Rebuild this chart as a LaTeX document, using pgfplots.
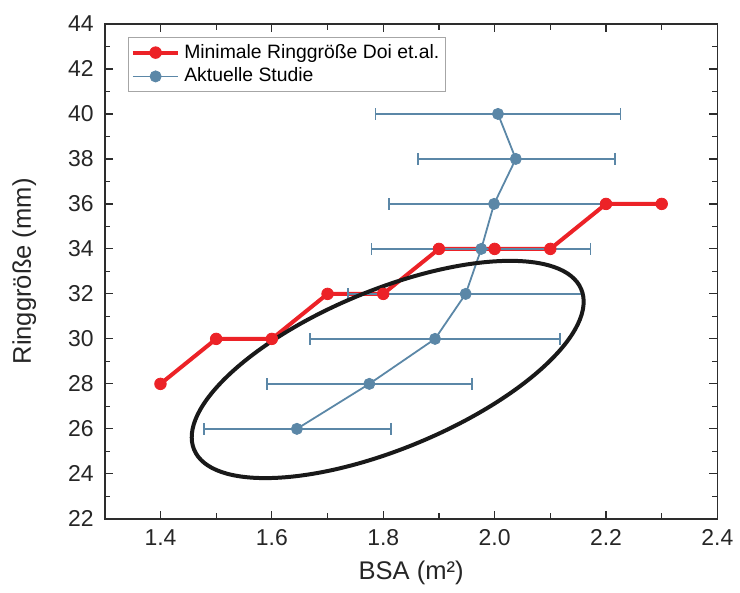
\documentclass[border=0pt]{standalone}
\usepackage{pgfplots}
\pgfplotsset{compat=1.18}
\usepackage{pgfplotstable}
\usepackage{fontspec}
\setmainfont{Liberation Sans}
\definecolor{myred}{RGB}{236,34,39}
\definecolor{myblue}{RGB}{91,135,167}
\definecolor{frame}{RGB}{45,45,45}
\pgfplotstableread{
x y ep em
1.645 26 0.169 0.167
1.775 28 0.184 0.184
1.893 30 0.224 0.224
1.948 32 0.210 0.211
1.976 34 0.196 0.197
1.999 36 0.199 0.189
2.038 38 0.178 0.176
2.006 40 0.220 0.220
}\studie
\pgfplotstableread{
x y
1.4 28
1.5 30
1.6 30
1.7 32
1.8 32
1.9 34
2.0 34
2.1 34
2.2 36
2.3 36
}\doi
\begin{document}
\begin{tikzpicture}
\begin{axis}[
 scale only axis, width=307pt, height=248pt,
 xmin=1.3, xmax=2.4, ymin=22, ymax=44,
 xtick={1.4,1.6,1.8,2.0,2.2,2.4}, minor x tick num=1,
 ytick={22,24,...,44}, minor y tick num=1,
 tick align=inside, major tick length=4pt, minor tick length=2.8pt,
 /pgf/number format/assume math mode=true,
 ticklabel style={font=\fontsize{11.5}{13}\selectfont, color=black!85},
 xticklabel style={/pgf/number format/fixed, /pgf/number format/fixed zerofill, /pgf/number format/precision=1, yshift=-2pt},
 yticklabel style={xshift=-2pt},
 axis line style={frame, line width=0.8pt},
 every tick/.style={frame, line width=0.6pt},
 xlabel={BSA (m²)}, ylabel={Ringgröße (mm)},
 label style={font=\fontsize{12.8}{14}\selectfont, color=black!85},
 xlabel style={at={(axis description cs:0.5,0)}, anchor=base, yshift=-30.5pt},
 ylabel style={at={(axis description cs:0,0.5)}, anchor=base, yshift=37pt},
 legend style={at={(0,1)}, anchor=north west, xshift=11.7pt, yshift=-6.7pt,
   draw=gray!70, line width=0.4pt, font=\fontsize{9.7}{11}\selectfont, inner sep=1.2pt, row sep=-0.6pt},
 legend cell align=left,
 legend image code/.code={\draw[mark repeat=2,mark phase=2,#1] plot coordinates {(0cm,0cm)(0.4cm,0cm)(0.8cm,0cm)};},
]
\addplot[myred, line width=2pt, mark=*, mark size=2.9pt, mark options={solid, fill=myred, draw=myred, line width=0.4pt}] table[x=x,y=y] {\doi};
\addlegendentry{Minimale Ringgröße Doi et.al.}
\addplot[myblue, line width=0.9pt, mark=*, mark size=2.8pt, mark options={solid, fill=myblue, draw=myblue, line width=0.4pt},
  error bars/.cd, x dir=both, x explicit, error mark=|, error bar style={myblue, line width=0.8pt}, error mark options={myblue, mark size=3pt, line width=0.8pt, rotate=0}]
  table[x=x, y=y, x error plus=ep, x error minus=em] {\studie};
\addlegendentry{Aktuelle Studie}
\draw[black!90, line width=2pt, rotate around={22.5:(axis cs:1.808,28.64)}] (axis cs:1.808,28.64) ellipse [x radius=105pt, y radius=39.75pt];
\end{axis}
\path ([shift={(-52.5pt,-37pt)}]current axis.south west) rectangle ([shift={(10.5pt,12pt)}]current axis.north east);
\end{tikzpicture}
\end{document}
